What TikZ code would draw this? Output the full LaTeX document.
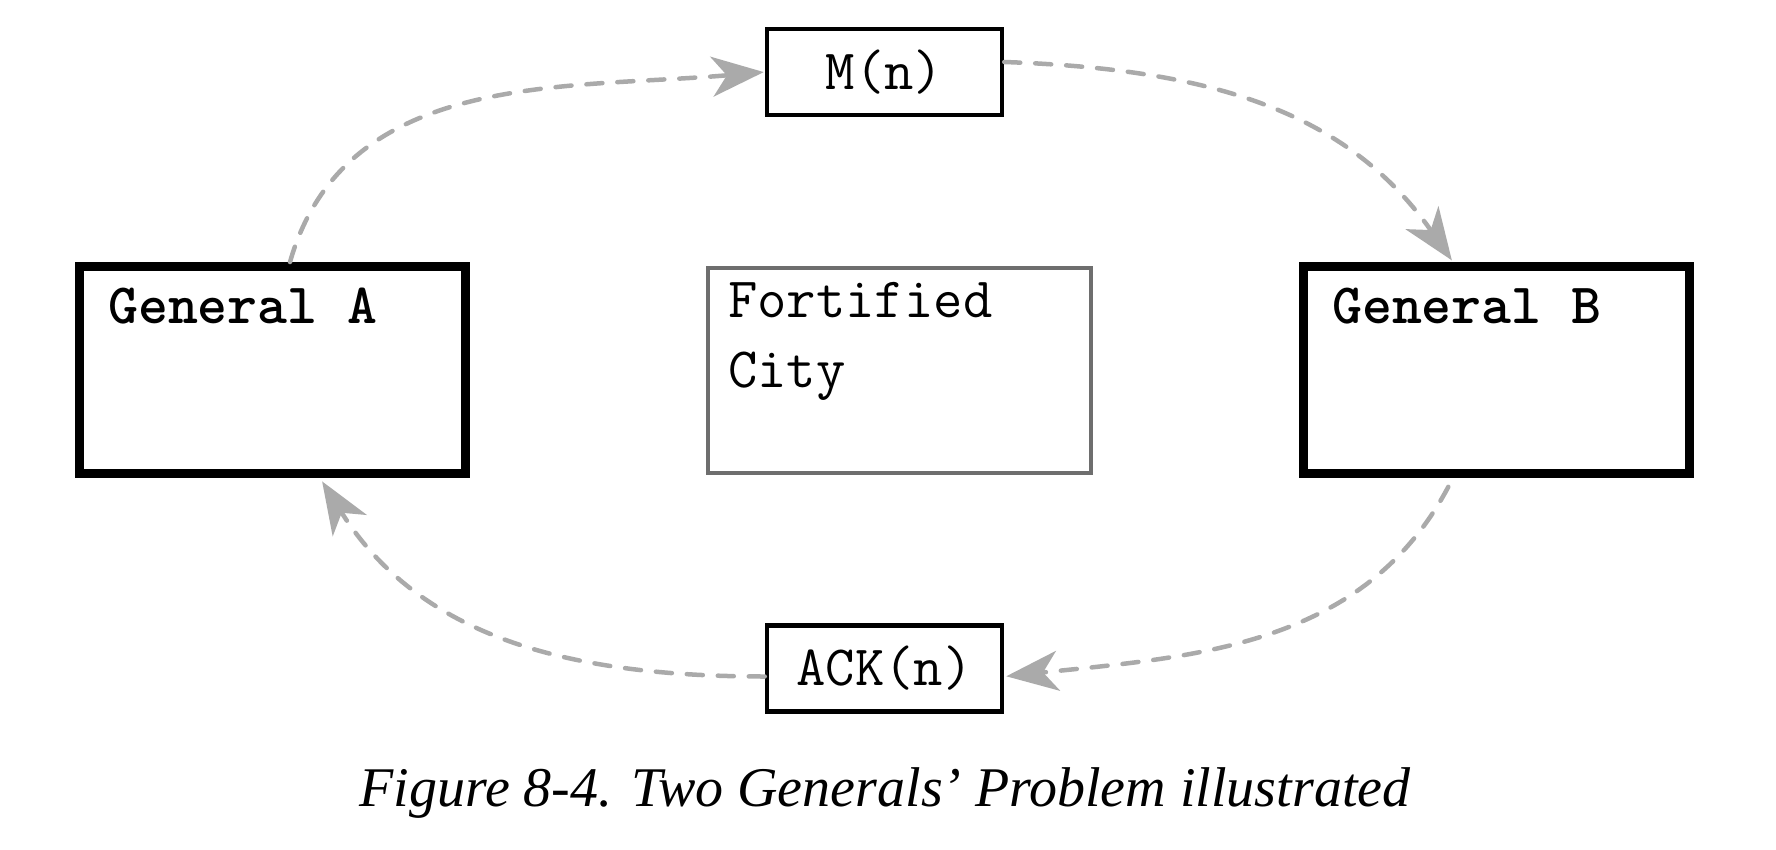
\documentclass[tikz,border=0pt]{standalone}
\usepackage{fontspec}
\newfontfamily\captionfont{Liberation Serif}
\usetikzlibrary{arrows.meta,positioning}
\definecolor{msggray}{RGB}{170,170,170}
\definecolor{citygray}{RGB}{110,110,110}

\begin{document}
\begin{tikzpicture}[
        x=1pt, y=1pt,
        general/.style={draw=black, line width=9pt, minimum width=386pt, minimum height=207pt, inner sep=0pt},
        city/.style={draw=citygray, line width=4pt, minimum width=383pt, minimum height=205pt, inner sep=0pt},
        msg/.style={draw=black, line width=4.5pt, minimum width=235pt, minimum height=86pt, inner sep=0pt, font=\fontsize{57}{60}\selectfont\ttfamily},
        lbl/.style={anchor=base west, inner sep=0pt, align=left, font=\fontsize{57}{70}\selectfont\ttfamily},
        flow/.style={draw=msggray, line width=4.5pt, line cap=round, dash pattern=on 16pt off 15pt, -{Stealth[length=52pt, width=40pt, inset=15pt, line cap=butt]}}
    ]
        \useasboundingbox (0,0) rectangle (1776,-850);

        % Generals and city
        \node[general] (genA) at (272,-370) {};
        \node[general] (genB) at (1496,-370) {};
        \node[city] (city) at (899.5,-370.5) {};
        \node[lbl, font=\fontsize{57}{70}\selectfont\ttfamily\bfseries] (lblA) at (108,-323) {General A};
        \node[lbl, font=\fontsize{57}{70}\selectfont\ttfamily\bfseries] (lblB) at (1332,-323) {General B};
        \node[lbl] (lblCity) at (728,-387) {Fortified\\City};

        % Messengers
        \node[msg] (msgM) at (884.5,-72) {M(n)};
        \node[msg] (msgAck) at (884.5,-668.5) {ACK(n)};

        % Message flows
        \draw[flow, shorten >=1pt] ([xshift=18pt]genA.north) to[out=74, in=185] (msgM.west);
        \draw[flow, shorten >=2pt] ([yshift=10pt]msgM.east) to[out=-2, in=125] ([xshift=-43pt]genB.north);
        \draw[flow, shorten <=10pt, shorten >=2pt] ([xshift=-43pt]genB.south) to[out=-118, in=6] ([yshift=-8pt]msgAck.east);
        \draw[flow, shorten >=4pt] ([yshift=-8pt]msgAck.west) to[out=180, in=-58] ([xshift=48pt]genA.south);

        % Caption
        \node[font=\captionfont\itshape\fontsize{56}{60}\selectfont, anchor=base] (caption) at (885,-806) {Figure 8-4. Two Generals’ Problem illustrated};
    \end{tikzpicture}
\end{document}
